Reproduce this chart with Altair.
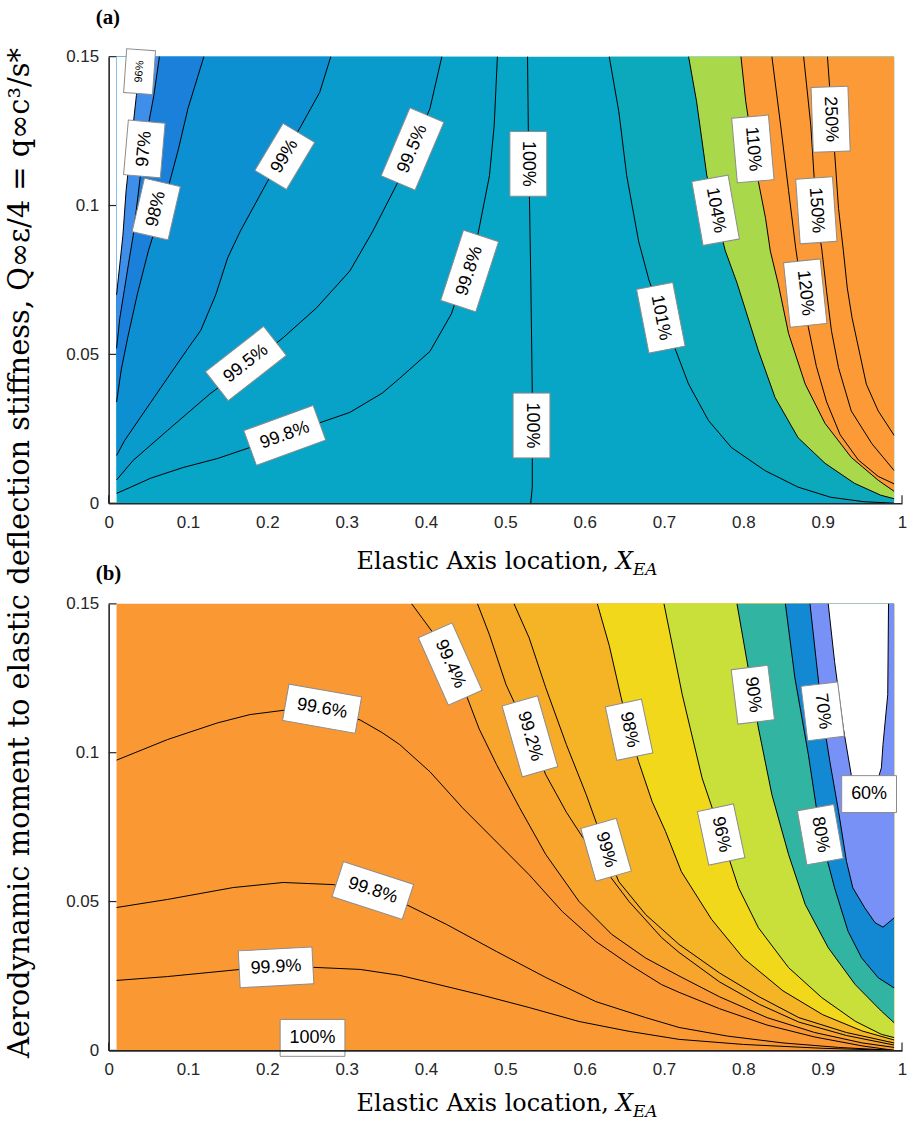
import altair as alt
import numpy as np
import pandas as pd

# ---------------- shared axis values ----------------
X_TICKS = [0, 0.1, 0.2, 0.3, 0.4, 0.5, 0.6, 0.7, 0.8, 0.9, 1]
Y_TICKS = [0, 0.05, 0.1, 0.15]
FIELD_X = [0.01, 0.99]      # x-extent of the computed field
FIELD_Y = [0.0, 0.15]       # y-extent of the computed field

# ---------------- panel (a) contours ----------------
# contours leaving the left edge (x ascending)
A96_X = [0.01, 0.014, 0.018, 0.022, 0.028, 0.035, 0.043]
A96_Y = [0.070, 0.080, 0.090, 0.105, 0.120, 0.137, 0.150]
A97_X = [0.01, 0.014, 0.02, 0.026, 0.031, 0.04, 0.05, 0.057, 0.064]
A97_Y = [0.052, 0.062, 0.072, 0.082, 0.090, 0.110, 0.127, 0.137, 0.150]
A98_X = [0.01, 0.016, 0.024, 0.036, 0.05, 0.062, 0.074, 0.088, 0.1, 0.112, 0.12]
A98_Y = [0.034, 0.045, 0.0556, 0.070, 0.0847, 0.095, 0.105, 0.119, 0.1326, 0.143, 0.15]
A99_X = [0.01, 0.02, 0.04, 0.074, 0.1, 0.116, 0.135, 0.15, 0.166, 0.2, 0.241, 0.266, 0.28]
A99_Y = [0.016, 0.021, 0.0288, 0.042, 0.052, 0.058, 0.070, 0.0824, 0.0914, 0.108, 0.126, 0.138, 0.15]
A995_X = [0.01, 0.031, 0.074, 0.128, 0.175, 0.22, 0.262, 0.304, 0.333, 0.363, 0.385, 0.405, 0.42]
A995_Y = [0.0078, 0.0144, 0.0244, 0.0368, 0.046, 0.0556, 0.0656, 0.078, 0.0914, 0.107, 0.120, 0.1326, 0.15]
A998_X = [0.01, 0.028, 0.053, 0.094, 0.137, 0.178, 0.222, 0.266, 0.304, 0.345, 0.367, 0.405, 0.432,
          0.45, 0.465, 0.48, 0.486, 0.49]
A998_Y = [0.0033, 0.0054, 0.0084, 0.012, 0.015, 0.0187, 0.0228, 0.027, 0.0305, 0.037, 0.042, 0.051, 0.0636,
          0.078, 0.0897, 0.11, 0.127, 0.15]
# contours coming down from the top edge (top to bottom)
A100_X = [0.528, 0.529, 0.532, 0.534, 0.534, 0.532]
A100_Y = [0.15, 0.125, 0.077, 0.037, 0.0054, 0.0]
A101_X = [0.631, 0.643, 0.653, 0.668, 0.681, 0.698, 0.715, 0.731, 0.756, 0.785, 0.827, 0.869, 0.91, 0.952, 0.99]
A101_Y = [0.15, 0.1316, 0.11, 0.088, 0.075, 0.062, 0.0512, 0.040, 0.0278, 0.0187, 0.011, 0.0054, 0.002, 0.0005, 0.0]
A104_X = [0.731, 0.741, 0.754, 0.765, 0.777, 0.792, 0.819, 0.84, 0.869, 0.903, 0.94, 0.973, 0.99]
A104_Y = [0.15, 0.135, 0.11, 0.098, 0.085, 0.074, 0.0512, 0.0355, 0.022, 0.0134, 0.0067, 0.0027, 0.0015]
A110_X = [0.797, 0.803, 0.812, 0.819, 0.828, 0.834, 0.844, 0.857, 0.878, 0.903, 0.936, 0.97, 0.99]
A110_Y = [0.15, 0.135, 0.119, 0.108, 0.0957, 0.0847, 0.0737, 0.057, 0.040, 0.0268, 0.0154, 0.0077, 0.004]
A120_X = [0.836, 0.847, 0.857, 0.866, 0.874, 0.882, 0.892, 0.905, 0.922, 0.945, 0.97, 0.99]
A120_Y = [0.15, 0.127, 0.105, 0.0857, 0.071, 0.059, 0.046, 0.034, 0.023, 0.0145, 0.009, 0.0065]
A150_X = [0.876, 0.885, 0.892, 0.899, 0.905, 0.911, 0.92, 0.936, 0.962, 0.99]
A150_Y = [0.15, 0.127, 0.098, 0.085, 0.071, 0.058, 0.0455, 0.031, 0.02, 0.011]
A250_X = [0.906, 0.912, 0.915, 0.92, 0.926, 0.931, 0.937, 0.955, 0.97, 0.99]
A250_Y = [0.15, 0.128, 0.118, 0.099, 0.085, 0.0723, 0.0623, 0.040, 0.031, 0.0228]

A_LAB_TEXT = ["96%", "97%", "98%", "99%", "99.5%", "99.8%", "99.5%", "99.8%", "100%", "100%",
              "101%", "104%", "110%", "120%", "150%", "250%"]
A_LAB_X = [0.039, 0.045, 0.060, 0.222, 0.383, 0.455, 0.173, 0.222, 0.529, 0.533,
           0.696, 0.765, 0.812, 0.878, 0.892, 0.910]
A_LAB_Y = [0.145, 0.119, 0.0988, 0.1165, 0.119, 0.078, 0.0469, 0.0228, 0.114, 0.0261,
           0.0623, 0.0984, 0.119, 0.0706, 0.0984, 0.129]
A_LAB_ANGLE = [274, 275, 283, 301, 293, 288, 322, 340, 90, 90, 79, 80, 85, 84, 86, 88]

# ---------------- panel (b) contours ----------------
# contours spanning the full width (x ascending)
B996_X = [0.01, 0.074, 0.137, 0.178, 0.225, 0.269, 0.317, 0.345, 0.367, 0.405, 0.446, 0.489, 0.53,
          0.572, 0.614, 0.656, 0.697, 0.719, 0.77, 0.83, 0.89, 0.95, 0.99]
B996_Y = [0.0975, 0.1044, 0.110, 0.1128, 0.1144, 0.1148, 0.111, 0.1067, 0.1027, 0.0936, 0.0815, 0.070, 0.059,
          0.0466, 0.0366, 0.0289, 0.0221, 0.0195, 0.014, 0.0085, 0.0045, 0.0015, 0.0]
B998_X = [0.01, 0.074, 0.157, 0.22, 0.283, 0.332, 0.375, 0.426, 0.489, 0.551, 0.614, 0.677, 0.719,
          0.78, 0.85, 0.92, 0.99]
B998_Y = [0.048, 0.0507, 0.0547, 0.0564, 0.0557, 0.0525, 0.049, 0.0423, 0.0332, 0.0245, 0.0164, 0.011, 0.0077,
          0.0048, 0.0025, 0.001, 0.0]
B999_X = [0.01, 0.074, 0.166, 0.211, 0.258, 0.317, 0.367, 0.405, 0.467, 0.53, 0.593, 0.656, 0.719, 0.8, 0.9, 0.99]
B999_Y = [0.0235, 0.0248, 0.0272, 0.0278, 0.0279, 0.0272, 0.0252, 0.0228, 0.0188, 0.0144, 0.0097, 0.0064,
          0.0037, 0.002, 0.0007, 0.0]
# contours coming down from the top edge (top to bottom)
B994_X = [0.382, 0.408, 0.43, 0.452, 0.467, 0.489, 0.518, 0.551, 0.593, 0.634, 0.677, 0.719, 0.77, 0.83, 0.89, 0.95, 0.99]
B994_Y = [0.150, 0.1406, 0.130, 0.1185, 0.108, 0.096, 0.0815, 0.0658, 0.050, 0.039, 0.031, 0.025, 0.018, 0.011,
          0.006, 0.0025, 0.001]
B992_X = [0.465, 0.48, 0.501, 0.531, 0.551, 0.577, 0.614, 0.656, 0.697, 0.719, 0.77, 0.82, 0.87, 0.93, 0.99]
B992_Y = [0.150, 0.1396, 0.1228, 0.1055, 0.0926, 0.080, 0.0648, 0.050, 0.0379, 0.0329, 0.023, 0.0155, 0.0095,
          0.005, 0.0018]
B99_X = [0.511, 0.53, 0.551, 0.577, 0.602, 0.627, 0.643, 0.677, 0.719, 0.77, 0.82, 0.87, 0.93, 0.99]
B99_Y = [0.150, 0.1386, 0.1218, 0.1027, 0.0859, 0.0674, 0.0567, 0.0456, 0.0356, 0.026, 0.018, 0.011, 0.006, 0.0025]
B98_X = [0.616, 0.631, 0.646, 0.656, 0.668, 0.685, 0.702, 0.722, 0.76, 0.80, 0.85, 0.90, 0.95, 0.99]
B98_Y = [0.150, 0.136, 0.1185, 0.1077, 0.097, 0.0836, 0.0735, 0.060, 0.044, 0.031, 0.020, 0.012, 0.0065, 0.0035]
B96_X = [0.70, 0.723, 0.748, 0.772, 0.794, 0.819, 0.857, 0.899, 0.941, 0.974, 0.99]
B96_Y = [0.150, 0.1195, 0.0915, 0.0725, 0.0546, 0.0412, 0.0278, 0.0177, 0.0098, 0.0054, 0.0043]
B90_X = [0.792, 0.812, 0.819, 0.836, 0.857, 0.878, 0.907, 0.941, 0.974, 0.99]
B90_Y = [0.150, 0.1195, 0.1083, 0.0859, 0.0658, 0.049, 0.0345, 0.0221, 0.0132, 0.0093]
B80_X = [0.853, 0.865, 0.882, 0.897, 0.915, 0.932, 0.949, 0.97, 0.99]
B80_Y = [0.150, 0.1251, 0.0993, 0.0728, 0.0546, 0.040, 0.0311, 0.0244, 0.021]
B70_X = [0.884, 0.892, 0.899, 0.909, 0.92, 0.93, 0.938, 0.953, 0.966, 0.976, 0.99]
B70_Y = [0.150, 0.1306, 0.1139, 0.0971, 0.0803, 0.0635, 0.0546, 0.0479, 0.0429, 0.0414, 0.0445]
B60_X = [0.907, 0.915, 0.926, 0.936, 0.946, 0.955, 0.966, 0.974, 0.976, 0.982, 0.983]
B60_Y = [0.150, 0.1306, 0.1083, 0.0926, 0.087, 0.0848, 0.088, 0.0949, 0.1027, 0.1195, 0.150]

B_LAB_TEXT = ["99.6%", "99.8%", "99.9%", "100%", "99.4%", "99.2%", "99%", "98%", "96%", "90%", "80%", "70%", "60%"]
B_LAB_X = [0.269, 0.333, 0.211, 0.257, 0.4305, 0.531, 0.627, 0.656, 0.772, 0.812, 0.897, 0.900, 0.9585]
B_LAB_Y = [0.1148, 0.0537, 0.0279, 0.0042, 0.1298, 0.1055, 0.0674, 0.1077, 0.0725, 0.1195, 0.0725, 0.1139, 0.0861]
B_LAB_ANGLE = [10, 18, 357, 0, 66, 74, 74, 78, 78, 83, 80, 83, 0]

# ---------------- styling ----------------
W, H = 796, 448
INK = "#262626"
XS = alt.Scale(domain=[0, 1], nice=False, zero=False)
YS = alt.Scale(domain=[0, 0.15], nice=False, zero=False)
AX_COMMON = dict(title=None, ticks=False, tickSize=0, grid=False, labelFont="Liberation Sans",
                 labelFontSize=17, labelColor=INK, domainColor=INK, domainWidth=1.6, zindex=1,
                 labelOverlap=False)
AX_X = alt.Axis(values=X_TICKS, format=".2~f", labelPadding=11, labelFlush=False, **AX_COMMON)
AX_Y = alt.Axis(values=Y_TICKS, format=".2~f", labelPadding=10, **AX_COMMON)

BOX_KINDS = ["k3", "k4", "k5", "ks"]
BOX_PATHS = ["M-27.5,-18.5L27.5,-18.5L27.5,18.5L-27.5,18.5Z",
             "M-32.5,-18.5L32.5,-18.5L32.5,18.5L-32.5,18.5Z",
             "M-37,-18.5L37,-18.5L37,18.5L-37,18.5Z",
             "M-22,-14.5L22,-14.5L22,14.5L-22,14.5Z"]
SMALL_A = {0}


def ex(f):
    return alt.X(f, scale=XS, axis=AX_X)


def ey(f):
    return alt.Y(f, scale=YS, axis=AX_Y)


def tick_layers():
    ty = alt.Chart(pd.DataFrame({"v": Y_TICKS})).mark_rule(color=INK, strokeWidth=1.2).encode(
        x=alt.value(0), x2=alt.value(8), y=ey("v:Q"))
    tx = alt.Chart(pd.DataFrame({"v": X_TICKS})).mark_rule(color=INK, strokeWidth=1.2).encode(
        x=ex("v:Q"), y=alt.value(H), y2=alt.value(H - 8))
    return [ty, tx]


def base_layer(color):
    df = pd.DataFrame({"x": [FIELD_X[0]], "x2": [FIELD_X[1]], "y": [FIELD_Y[0]], "y2": [FIELD_Y[1]]})
    return alt.Chart(df).mark_rect(color=color, strokeWidth=0).encode(
        x=ex("x:Q"), x2="x2:Q", y=ey("y:Q"), y2="y2:Q")


def v_fill(xs, ys, color):
    df = pd.DataFrame({"x": xs, "y": ys, "y2": FIELD_Y[1]})
    return alt.Chart(df).mark_area(color=color, orient="vertical", opacity=1).encode(
        x=ex("x:Q"), y=ey("y:Q"), y2="y2:Q")


def h_region(xs, ys, edge):
    xs, ys = np.asarray(xs, float), np.asarray(ys, float)
    k = int(np.argmin(ys))
    lx, ly = xs[:k + 1][::-1], ys[:k + 1][::-1]
    rx, ry = xs[k:], ys[k:]
    yy = np.unique(np.concatenate([ly, ry]))
    yy = yy[yy <= ly.max()]
    xl = np.interp(yy, ly, lx)
    if len(rx) > 1:
        xr = np.where(yy <= ry.max(), np.interp(yy, ry, rx), edge)
    else:
        xr = np.full_like(yy, edge)
    return yy, xl, xr


def h_fill(xs, ys, color):
    yy, xl, xr = h_region(xs, ys, FIELD_X[1])
    df = pd.DataFrame({"y": yy, "x": xl, "x2": xr})
    return alt.Chart(df).mark_area(color=color, orient="horizontal", opacity=1).encode(
        x=ex("x:Q"), x2="x2:Q", y=ey("y:Q"))


def line(xs, ys):
    df = pd.DataFrame({"x": xs, "y": ys, "i": list(range(len(xs)))})
    return alt.Chart(df).mark_line(color="black", strokeWidth=1).encode(
        x=ex("x:Q"), y=ey("y:Q"), order="i:Q")


def label_layers(texts, xs, ys, angles, small=()):
    kinds, sizes = [], []
    for i, t in enumerate(texts):
        if i in small:
            kinds.append("ks"); sizes.append(11)
        else:
            kinds.append("k%d" % min(len(t), 5)); sizes.append(18)
    df = pd.DataFrame({"t": texts, "x": xs, "y": ys, "a": angles, "k": kinds, "fs": sizes})
    boxes = alt.Chart(df).mark_point(filled=True, fill="white", stroke="#8c8c8c", strokeWidth=1,
                                     opacity=1, size=4).encode(
        x=ex("x:Q"), y=ey("y:Q"),
        shape=alt.Shape("k:N", scale=alt.Scale(domain=BOX_KINDS, range=BOX_PATHS), legend=None),
        angle=alt.Angle("a:Q", scale=None))
    txt = alt.Chart(df).mark_text(font="Liberation Sans", color="black", align="center",
                                  baseline="middle").encode(
        x=ex("x:Q"), y=ey("y:Q"), text="t:N",
        angle=alt.Angle("a:Q", scale=None), size=alt.Size("fs:Q", scale=None))
    return [boxes, txt]


def deco(text, x, y, **kw):
    return alt.Chart(pd.DataFrame({"k": [0]})).mark_text(text=text, **kw).encode(
        x=alt.value(x), y=alt.value(y))


def xtitle_layers(ybase):
    return [
        deco("Elastic Axis location,", 502, ybase, font="DejaVu Serif", fontSize=24, align="right",
             baseline="alphabetic", color="black"),
        deco("X", 509, ybase, font="DejaVu Serif", fontSize=24, fontStyle="italic", align="left",
             baseline="alphabetic", color="black"),
        deco("EA", 526, ybase + 6, font="DejaVu Serif", fontSize=17, fontStyle="italic", align="left",
             baseline="alphabetic", color="black"),
    ]


# ---------------- panel (a) ----------------
layers_a = tick_layers() + [base_layer("#07a5c6")]
layers_a += [
    v_fill(A998_X, A998_Y, "#08a1c8"),
    v_fill(A995_X, A995_Y, "#099bcb"),
    v_fill(A99_X, A99_Y, "#0d90d2"),
    v_fill(A98_X, A98_Y, "#1a80d9"),
    v_fill(A97_X, A97_Y, "#3f8eea"),
    v_fill(A96_X, A96_Y, "#ffffff"),
    h_fill(A101_X, A101_Y, "#0ba9bb"),
    h_fill(A104_X, A104_Y, "#aad84b"),
    h_fill(A110_X, A110_Y, "#fb9a36"),
]
for xs, ys in [(A96_X, A96_Y), (A97_X, A97_Y), (A98_X, A98_Y), (A99_X, A99_Y), (A995_X, A995_Y),
               (A998_X, A998_Y), (A100_X, A100_Y), (A101_X, A101_Y), (A104_X, A104_Y),
               (A110_X, A110_Y), (A120_X, A120_Y), (A150_X, A150_Y), (A250_X, A250_Y)]:
    layers_a.append(line(xs, ys))
layers_a += label_layers(A_LAB_TEXT, A_LAB_X, A_LAB_Y, A_LAB_ANGLE, SMALL_A)
layers_a += xtitle_layers(514)
layers_a.append(deco("(a)", -13, -33, font="Liberation Serif", fontSize=21, fontWeight="bold",
                     align="left", baseline="alphabetic", color="black"))
layers_a.append(deco("Aerodynamic moment to elastic deflection stiffness, Q\u221e\u03b5/4 = q\u221ec\u00b3/s*",
                     -89, 498, font="DejaVu Serif", fontSize=29, angle=270, align="center",
                     baseline="middle", color="black"))
panel_a = alt.layer(*layers_a).properties(width=W, height=H)

# ---------------- panel (b) ----------------
layers_b = tick_layers() + [base_layer("#fa9833")]
layers_b += [
    h_fill(B994_X, B994_Y, "#f7a52c"),
    h_fill(B992_X, B992_Y, "#f6ac29"),
    h_fill(B99_X, B99_Y, "#f5b426"),
    h_fill(B98_X, B98_Y, "#f2d81b"),
    h_fill(B96_X, B96_Y, "#c9df3a"),
    h_fill(B90_X, B90_Y, "#31b5a2"),
    h_fill(B80_X, B80_Y, "#1389d3"),
    h_fill(B70_X, B70_Y, "#7891f7"),
    h_fill(B60_X, B60_Y, "#ffffff"),
]
for xs, ys in [(B996_X, B996_Y), (B998_X, B998_Y), (B999_X, B999_Y), (B994_X, B994_Y),
               (B992_X, B992_Y), (B99_X, B99_Y), (B98_X, B98_Y), (B96_X, B96_Y), (B90_X, B90_Y),
               (B80_X, B80_Y), (B70_X, B70_Y), (B60_X, B60_Y)]:
    layers_b.append(line(xs, ys))
layers_b += label_layers(B_LAB_TEXT, B_LAB_X, B_LAB_Y, B_LAB_ANGLE)
layers_b += xtitle_layers(509)
layers_b.append(deco("(b)", -13, -24, font="Liberation Serif", fontSize=21, fontWeight="bold",
                     align="left", baseline="alphabetic", color="black"))
panel_b = alt.layer(*layers_b).properties(width=W, height=H)

chart = alt.vconcat(panel_a, panel_b, spacing=101, bounds="flush").properties(
    padding={"left": 5, "top": 5, "right": 0, "bottom": 5},
    background="white",
).configure_view(stroke=None)

chart.save("out.html", embed_options={"renderer": "svg", "actions": False})
